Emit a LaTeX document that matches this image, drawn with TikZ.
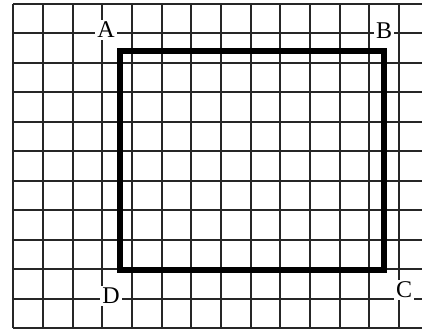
\documentclass[tikz,border=0pt]{standalone}
\usepackage{fontspec}
\setmainfont{Liberation Serif}
\begin{document}
\begin{tikzpicture}[x=1pt,y=-1pt,
  gridline/.style={draw=black!85,line width=1.5pt},
  thickline/.style={draw=black,line width=5.5pt,line cap=rect,line join=miter},
  vlabel/.style={fill=white,inner sep=2pt,font=\fontsize{24}{24}\selectfont}]
\useasboundingbox[fill=white] (0,0) rectangle (422,329);
% grid
\foreach \x in {13,43,73,102,132,162,191,221,251,280,310,340,369,399} {
  \draw[gridline] (\x,4) -- (\x,328);
}
\foreach \y in {4,33,63,92,122,151,181,210,240,269,299,328} {
  \draw[gridline] (13,\y) -- (422,\y);
}
% rectangle corners
\coordinate (pA) at (120,51);
\coordinate (pB) at (384,51);
\coordinate (pC) at (384,270);
\coordinate (pD) at (120,270);
\draw[thickline] (pA) -- (pB) -- (pC) -- (pD) -- cycle;
% labels
\node[vlabel] (A) at (106,30) {A};
\node[vlabel] (B) at (384,31) {B};
\node[vlabel] (C) at (404,290) {C};
\node[vlabel] (D) at (111,296) {D};
\end{tikzpicture}
\end{document}
